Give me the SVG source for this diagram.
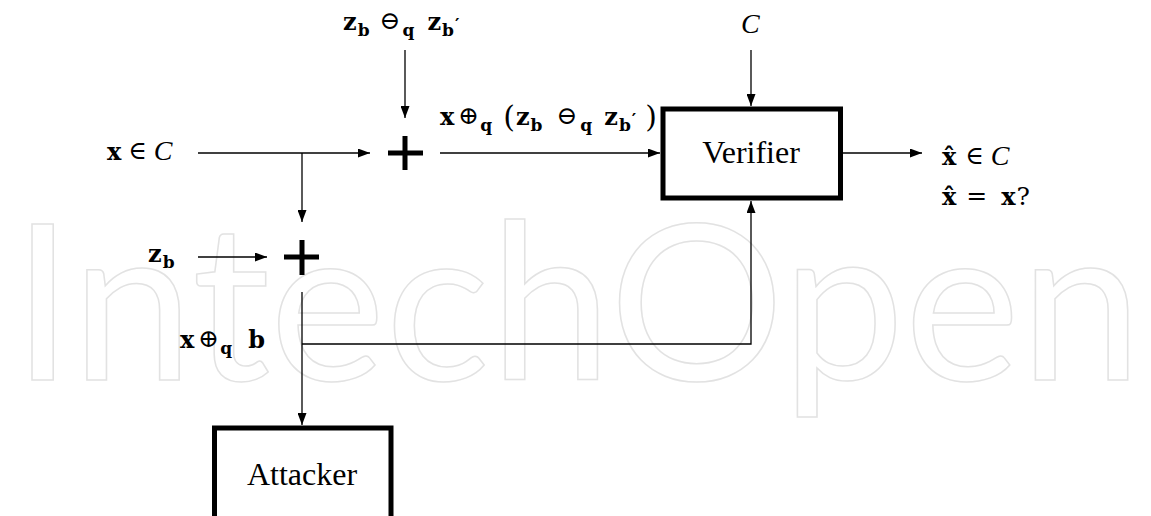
<svg xmlns="http://www.w3.org/2000/svg" width="1151" height="516" viewBox="0 0 1151 516">
<style>
.ln{fill:none;stroke:#000;stroke-width:1.3}
.box{fill:#fff;stroke:#000;stroke-width:5}
.plus{fill:none;stroke:#000;stroke-width:5}
.t{font-family:"DejaVu Serif","Liberation Serif",serif;fill:#000}
.m{font-weight:bold;font-size:24px}
.s{font-weight:bold;font-size:17px}
.op{font-weight:normal;font-size:25px}
.cal{font-family:"Liberation Serif",serif;font-style:italic;font-weight:normal;font-size:28px}
.lbl{font-family:"Liberation Serif",serif;font-size:32px;fill:#000;text-anchor:middle}
.wm{font-family:Lato,"Open Sans",sans-serif;font-size:218px;fill:none;stroke:#e2e2e2;stroke-width:1.5}
</style>
<defs>
<marker id="ah" markerUnits="userSpaceOnUse" markerWidth="12" markerHeight="9" refX="12" refY="4.5" orient="auto">
<path d="M0,0 L12,4.5 L0,9 Z" fill="#000"/>
</marker>
</defs>
<text class="wm" x="12" y="380" textLength="1130" lengthAdjust="spacingAndGlyphs">IntechOpen</text>

<g id="connectors">
<path class="ln" d="M405,50 V118" marker-end="url(#ah)"/>
<path class="ln" d="M198,153 H370" marker-end="url(#ah)"/>
<path class="ln" d="M302,153 V222" marker-end="url(#ah)"/>
<path class="ln" d="M198,257 H267" marker-end="url(#ah)"/>
<path class="ln" d="M440,153 H660" marker-end="url(#ah)"/>
<path class="ln" d="M751,50 V106" marker-end="url(#ah)"/>
<path class="ln" d="M843,153 H922" marker-end="url(#ah)"/>
<path class="ln" d="M302,292 V425" marker-end="url(#ah)"/>
<path class="ln" d="M302,344 H751 V201" marker-end="url(#ah)"/>
</g>

<g id="plus-top"><path class="plus" d="M388,153 H423 M405,136 V170"/></g>
<g id="plus-bottom"><path class="plus" d="M284,257 H319 M302,240 V275"/></g>

<g id="verifier">
<rect class="box" x="663" y="109" width="177.5" height="89"/>
<text class="lbl" x="751" y="163">Verifier</text>
</g>

<g id="attacker">
<rect class="box" x="214.5" y="428" width="176.5" height="100"/>
<text class="lbl" x="302" y="485">Attacker</text>
</g>

<g id="label-top">
<text class="t" x="343" y="30"><tspan class="m">z</tspan><tspan class="s" dx="1" dy="6">b</tspan><tspan class="op" dx="10" dy="-7">⊖</tspan><tspan class="s" dx="2" dy="7">q</tspan><tspan class="m" dx="13" dy="-6">z</tspan><tspan class="s" dx="1" dy="6">b</tspan><tspan class="s" dx="1" dy="-6">′</tspan></text>
</g>

<g id="label-C">
<text class="t cal" x="741" y="33">C</text>
</g>

<g id="label-x">
<text class="t" x="107" y="160"><tspan class="m">x</tspan><tspan class="op" dx="7" dy="-1">∈</tspan><tspan class="cal" dx="7" dy="1">C</tspan></text>
</g>

<g id="label-sum">
<text class="t" x="440" y="125"><tspan class="m">x</tspan><tspan class="op" dx="4" dy="-1">⊕</tspan><tspan class="s" dx="1" dy="7">q</tspan><tspan class="op" dx="11" dy="-4" style="font-size:30px">(</tspan><tspan class="m" dx="1" dy="-2">z</tspan><tspan class="s" dx="1" dy="6">b</tspan><tspan class="op" dx="14" dy="-7">⊖</tspan><tspan class="s" dx="3" dy="7">q</tspan><tspan class="m" dx="12" dy="-6">z</tspan><tspan class="s" dx="1" dy="6">b</tspan><tspan class="s" dx="1" dy="-6">′</tspan><tspan class="op" dx="9" dy="2" style="font-size:30px">)</tspan></text>
</g>

<g id="label-zb">
<text class="t" x="148" y="262"><tspan class="m">z</tspan><tspan class="s" dx="1" dy="6">b</tspan></text>
</g>

<g id="label-xb">
<text class="t" x="180" y="348"><tspan class="m">x</tspan><tspan class="op" dx="4" dy="-1">⊕</tspan><tspan class="s" dx="1" dy="7">q</tspan><tspan class="m" dx="16" dy="-6">b</tspan></text>
</g>

<g id="label-out">
<text class="t" x="942" y="165"><tspan class="m">x̂</tspan><tspan class="op" dx="9" dy="-1">∈</tspan><tspan class="cal" dx="7" dy="1">C</tspan></text>
<text class="t" x="942" y="205"><tspan class="m">x̂</tspan><tspan class="op" dx="10" dy="-1">=</tspan><tspan class="m" dx="14" dy="1">x</tspan><tspan class="op" dx="1">?</tspan></text>
</g>
</svg>
